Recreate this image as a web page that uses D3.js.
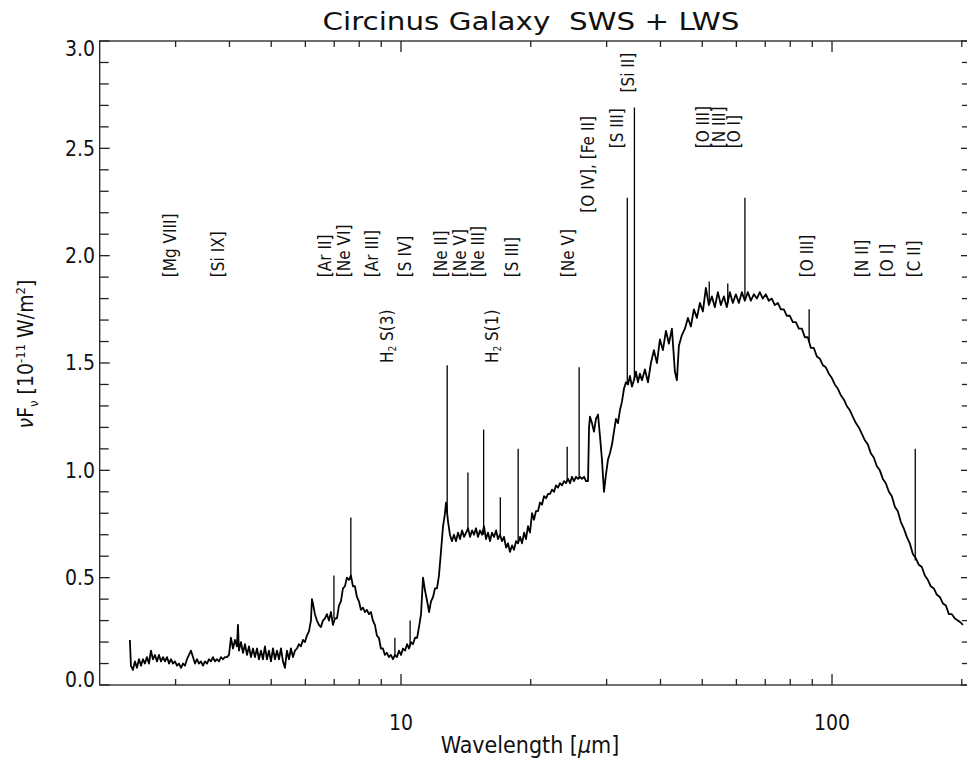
<!DOCTYPE html>
<html>
<head>
<meta charset="utf-8">
<script src="https://cdn.jsdelivr.net/npm/d3@7"></script>
<style>
  body { margin: 0; background: #fff; }
  svg text { font-family: "Liberation Sans Narrow", "DejaVu Sans Condensed", "DejaVu Sans", sans-serif; fill: #111; }
</style>
</head>
<body>
<svg id="chart" width="967" height="763"></svg>
<script>
// ISO SWS + LWS spectrum of the Circinus galaxy: wavelength in micron, nuF_nu in 1e-11 W/m^2
const wavelength = [
  2.350,2.363,2.388,2.414,2.440,2.467,2.494,2.520,2.547,2.574,2.602,2.630,2.658,2.687,2.716,2.745,2.775,2.805,2.835,2.865,
  2.896,2.927,2.958,2.990,3.022,3.054,3.088,3.121,3.154,3.188,3.222,3.257,3.292,3.327,3.363,3.399,3.435,3.473,3.510,3.548,
  3.586,3.624,3.663,3.702,3.742,3.782,3.823,3.864,3.905,3.947,3.990,4.032,4.076,4.120,4.164,4.186,4.208,4.254,4.300,4.346,
  4.393,4.440,4.487,4.536,4.584,4.634,4.683,4.734,4.784,4.835,4.887,4.940,4.993,5.047,5.101,5.156,5.211,5.267,5.323,5.380,
  5.438,5.496,5.555,5.615,5.676,5.737,5.798,5.860,5.923,5.987,6.051,6.116,6.182,6.215,6.249,6.315,6.383,6.451,6.521,6.591,
  6.662,6.733,6.806,6.879,6.952,7.027,7.103,7.179,7.256,7.334,7.413,7.492,7.573,7.654,7.737,7.819,7.903,7.988,8.074,8.161,
  8.248,8.337,8.426,8.516,8.608,8.700,8.793,8.888,8.983,9.079,9.178,9.276,9.376,9.477,9.579,9.685,9.789,9.894,10.00,10.11,
  10.22,10.33,10.44,10.55,10.66,10.78,10.90,11.01,11.13,11.25,11.37,11.50,11.62,11.74,11.87,11.99,12.12,12.25,12.38,12.52,
  12.65,12.72,12.86,12.99,13.13,13.27,13.42,13.56,13.71,13.86,14.01,14.16,14.31,14.46,14.62,14.77,14.93,15.09,15.25,15.42,
  15.58,15.75,15.92,16.09,16.26,16.44,16.62,16.79,16.97,17.16,17.34,17.53,17.71,17.90,18.10,18.29,18.49,18.69,18.89,19.09,
  19.30,19.50,19.71,19.92,20.14,20.35,20.57,20.79,21.02,21.24,21.47,21.70,21.94,22.17,22.41,22.65,22.89,23.14,23.38,23.64,
  23.89,24.15,24.41,24.67,24.93,25.20,25.47,25.75,26.02,26.30,26.59,26.87,27.16,27.31,27.45,27.74,28.04,28.34,28.65,28.95,
  29.26,29.58,29.89,30.22,30.54,30.87,31.20,31.53,31.87,32.21,32.56,32.91,33.26,33.62,33.98,34.34,34.71,35.08,35.46,35.84,
  36.23,36.81,37.41,38.01,38.62,39.25,39.88,40.52,41.18,41.84,42.52,43.20,43.67,44.13,44.85,45.57,46.31,47.05,47.81,48.59,
  49.37,50.17,50.98,51.80,52.64,53.48,54.35,55.22,56.12,57.02,57.94,58.88,59.83,60.80,61.78,62.77,63.79,64.82,65.86,66.93,
  68.00,69.10,70.22,71.35,72.50,73.67,74.87,76.08,77.31,78.56,79.83,81.12,82.43,83.76,85.12,86.49,87.89,89.31,90.75,92.22,
  93.71,95.22,96.76,98.32,99.91,101.5,103.2,104.8,106.5,108.2,110.0,111.7,113.6,115.4,117.3,119.2,121.1,123.0,125.0,127.0,
  129.1,131.2,133.3,135.5,137.6,139.9,142.1,144.4,146.7,149.1,151.5,154.0,156.5,159.0,161.6,164.2,166.8,169.5,172.3,175.1,
  177.9,180.8,183.7,186.7,189.7,192.8,195.9,199.1,201.2
];
const flux = [
  0.21,0.09,0.07,0.11,0.08,0.12,0.09,0.12,0.10,0.13,0.10,0.16,0.12,0.14,0.11,0.14,0.11,0.13,0.11,0.13,
  0.10,0.12,0.10,0.11,0.09,0.10,0.08,0.10,0.09,0.12,0.14,0.16,0.13,0.10,0.12,0.10,0.11,0.09,0.11,0.10,
  0.12,0.11,0.13,0.11,0.12,0.11,0.13,0.12,0.13,0.13,0.14,0.22,0.17,0.21,0.18,0.28,0.16,0.20,0.15,0.19,
  0.14,0.18,0.13,0.17,0.13,0.17,0.12,0.16,0.12,0.18,0.12,0.16,0.11,0.17,0.12,0.16,0.12,0.17,0.11,0.08,
  0.16,0.12,0.17,0.13,0.16,0.17,0.19,0.18,0.21,0.20,0.23,0.25,0.30,0.40,0.38,0.33,0.30,0.28,0.27,0.30,
  0.31,0.33,0.30,0.34,0.28,0.31,0.31,0.37,0.39,0.45,0.46,0.50,0.49,0.51,0.46,0.46,0.41,0.39,0.35,0.36,
  0.34,0.35,0.33,0.34,0.30,0.28,0.23,0.22,0.17,0.17,0.14,0.15,0.13,0.14,0.12,0.14,0.13,0.16,0.14,0.17,
  0.16,0.19,0.17,0.20,0.19,0.22,0.22,0.27,0.33,0.50,0.44,0.39,0.34,0.39,0.41,0.45,0.45,0.51,0.62,0.74,
  0.80,0.85,0.76,0.70,0.67,0.70,0.67,0.71,0.68,0.72,0.69,0.71,0.73,0.69,0.72,0.70,0.73,0.69,0.72,0.70,
  0.74,0.68,0.71,0.67,0.71,0.69,0.72,0.68,0.70,0.67,0.69,0.64,0.66,0.62,0.65,0.63,0.67,0.66,0.69,0.66,
  0.71,0.68,0.74,0.71,0.80,0.77,0.81,0.81,0.85,0.84,0.88,0.87,0.89,0.89,0.91,0.90,0.93,0.92,0.94,0.93,
  0.95,0.94,0.96,0.94,0.97,0.95,0.97,0.96,0.97,0.96,0.97,0.95,0.95,1.20,1.25,1.22,1.18,1.24,1.26,1.16,
  1.05,0.90,0.98,1.05,1.08,1.12,1.18,1.24,1.22,1.28,1.32,1.38,1.41,1.40,1.44,1.39,1.42,1.46,1.41,1.45,
  1.42,1.47,1.41,1.50,1.56,1.50,1.61,1.56,1.65,1.59,1.66,1.46,1.42,1.58,1.63,1.66,1.71,1.67,1.75,1.71,
  1.78,1.74,1.85,1.77,1.81,1.76,1.83,1.77,1.81,1.76,1.83,1.78,1.82,1.78,1.83,1.79,1.83,1.79,1.82,1.80,
  1.83,1.80,1.82,1.79,1.80,1.77,1.78,1.75,1.75,1.72,1.72,1.69,1.69,1.66,1.66,1.62,1.62,1.57,1.57,1.53,
  1.52,1.49,1.48,1.45,1.43,1.40,1.38,1.35,1.33,1.30,1.28,1.25,1.22,1.20,1.17,1.14,1.12,1.08,1.06,1.02,
  1.00,0.96,0.94,0.90,0.88,0.83,0.81,0.76,0.73,0.69,0.66,0.61,0.59,0.56,0.55,0.51,0.49,0.46,0.45,0.42,
  0.41,0.38,0.37,0.33,0.33,0.31,0.30,0.29,0.28
];

// Unresolved emission lines: position, local continuum, peak
const lineWave = [6.99, 7.65, 9.68, 10.5, 12.8, 14.3, 15.55, 17.0, 18.7, 24.3, 25.9, 33.5, 34.8, 51.9, 57.3, 62.8, 88.5, 156.0];
const lineBase = [0.31, 0.49, 0.13, 0.18, 0.80, 0.72, 0.70, 0.69, 0.66, 0.95, 0.96, 1.40, 1.42, 1.78, 1.78, 1.80, 1.60, 0.58];
const linePeak = [0.51, 0.78, 0.22, 0.30, 1.49, 0.99, 1.19, 0.875, 1.10, 1.11, 1.48, 2.27, 2.69, 1.88, 1.87, 2.27, 1.75, 1.10];

// Line identifications, written upward starting at labelFlux
const labelText = ["[Mg VIII]", "[Si IX]", "[Ar II]", "[Ne VI]", "[Ar III]", "[S IV]", "[Ne II]", "[Ne V]", "[Ne III]", "[S III]",
                   "[Ne V]", "[O IV], [Fe II]", "[S III]", "[Si II]", "[O III]", "[N III]", "[O I]", "[O III]", "[N II]", "[O I]", "[C II]"];
const labelWave = [2.91, 3.76, 6.66, 7.38, 8.56, 10.2, 12.38, 13.7, 15.09, 18.09,
                   24.4, 27.2, 31.7, 33.6, 50.2, 54.7, 59.3, 87.5, 117.4, 134.1, 155.0];
const labelFlux = [1.9, 1.9, 1.9, 1.9, 1.9, 1.9, 1.9, 1.9, 1.9, 1.9,
                   1.9, 2.2, 2.5, 2.76, 2.5, 2.5, 2.5, 1.9, 1.9, 1.9, 1.9];
const h2Wave = [9.28, 16.26];
const h2Level = ["3", "1"];
const h2Flux = [1.5, 1.5];

const xMajorTicks = [10, 100];
const xMinorTicks = [3, 4, 5, 6, 7, 8, 9, 20, 30, 40, 50, 60, 70, 80, 90, 200];
const yMajorTicks = [0, 0.5, 1.0, 1.5, 2.0, 2.5, 3.0];
const yMinorTicks = [0.1,0.2,0.3,0.4,0.6,0.7,0.8,0.9,1.1,1.2,1.3,1.4,1.6,1.7,1.8,1.9,2.1,2.2,2.3,2.4,2.6,2.7,2.8,2.9];

const svg = d3.select("#chart");
const x = d3.scaleLog().domain([2, 210]).range([99.7, 970.9]);
const y = d3.scaleLinear().domain([0, 3]).range([685, 41]);
const [x0, x1] = x.range();
const [y0, y1] = y.range();

// spectrum
const pts = wavelength.map((w, i) => [w, flux[i]]);
svg.append("path")
  .datum(pts)
  .attr("fill", "none")
  .attr("stroke", "#000")
  .attr("stroke-width", 1.8)
  .attr("stroke-linejoin", "round")
  .attr("d", d3.line().x(d => x(d[0])).y(d => y(d[1])));

svg.append("g").selectAll("line")
  .data(lineWave.map((w, i) => ({ w, b: lineBase[i], p: linePeak[i] })))
  .join("line")
  .attr("x1", d => x(d.w)).attr("x2", d => x(d.w))
  .attr("y1", d => y(d.b)).attr("y2", d => y(d.p))
  .attr("stroke", "#000").attr("stroke-width", 1.3);

// frame and ticks
const axes = svg.append("g").attr("stroke", "#222").attr("stroke-width", 1.3).attr("fill", "none");
axes.append("rect").attr("x", x0).attr("y", y1).attr("width", x1 - x0).attr("height", y0 - y1);

function xTicks(vals, len) {
  vals.forEach(v => {
    axes.append("line").attr("x1", x(v)).attr("x2", x(v)).attr("y1", y0).attr("y2", y0 - len);
    axes.append("line").attr("x1", x(v)).attr("x2", x(v)).attr("y1", y1).attr("y2", y1 + len);
  });
}
function yTicks(vals, len) {
  vals.forEach(v => {
    axes.append("line").attr("x1", x0).attr("x2", x0 + len).attr("y1", y(v)).attr("y2", y(v));
    axes.append("line").attr("x1", x1).attr("x2", x1 - len).attr("y1", y(v)).attr("y2", y(v));
  });
}
xTicks(xMajorTicks, 11);
xTicks(xMinorTicks, 6);
yTicks(yMajorTicks, 10);
yTicks(yMinorTicks, 9);

// tick labels
svg.append("g").selectAll("text")
  .data(yMajorTicks)
  .join("text")
  .attr("x", 95)
  .attr("y", d => Math.min(Math.max(y(d), 49), 680))
  .attr("dy", "0.35em")
  .attr("text-anchor", "end")
  .attr("font-size", 21)
  .text(d => d.toFixed(1));

svg.append("g").selectAll("text")
  .data(xMajorTicks)
  .join("text")
  .attr("x", d => x(d))
  .attr("y", 730)
  .attr("text-anchor", "middle")
  .attr("font-size", 21)
  .text(d => d);

// titles
svg.append("text")
  .attr("x", 531).attr("y", 30)
  .attr("text-anchor", "middle")
  .attr("font-size", 24)
  .attr("textLength", 417)
  .attr("lengthAdjust", "spacingAndGlyphs")
  .style("white-space", "pre")
  .text("Circinus Galaxy  SWS + LWS");

const xl = svg.append("text")
  .attr("x", 530).attr("y", 753)
  .attr("text-anchor", "middle")
  .attr("font-size", 23);
xl.append("tspan").text("Wavelength [");
xl.append("tspan").attr("font-style", "italic").text("\u03bc");
xl.append("tspan").text("m]");

const yl = svg.append("text")
  .attr("transform", "translate(33,354) rotate(-90)")
  .attr("text-anchor", "middle")
  .attr("font-size", 21);
yl.append("tspan").attr("font-style", "italic").text("\u03bd");
yl.append("tspan").text("F");
yl.append("tspan").attr("font-size", 13).attr("dy", 5).text("\u03bd");
yl.append("tspan").attr("dy", -5).text(" [10");
yl.append("tspan").attr("font-size", 13).attr("dy", -8).text("-11");
yl.append("tspan").attr("dy", 8).text(" W/m");
yl.append("tspan").attr("font-size", 13).attr("dy", -8).text("2");
yl.append("tspan").attr("dy", 8).text("]");

// line identifications (rotated, reading upward)
svg.append("g").selectAll("text")
  .data(labelText.map((t, i) => ({ t, w: labelWave[i], f: labelFlux[i] })))
  .join("text")
  .attr("transform", d => `translate(${x(d.w) + 6},${y(d.f)}) rotate(-90)`)
  .attr("font-size", 17)
  .style("white-space", "pre")
  .text(d => d.t);

const h2 = svg.append("g").selectAll("text")
  .data(h2Wave.map((w, i) => ({ w, n: h2Level[i], f: h2Flux[i] })))
  .join("text")
  .attr("transform", d => `translate(${x(d.w) + 6},${y(d.f)}) rotate(-90)`)
  .attr("font-size", 17);
h2.append("tspan").text("H");
h2.append("tspan").attr("font-size", 10).attr("dy", 3).text("2");
h2.append("tspan").attr("dy", -3).text(d => ` S(${d.n})`);
</script>
</body>
</html>
